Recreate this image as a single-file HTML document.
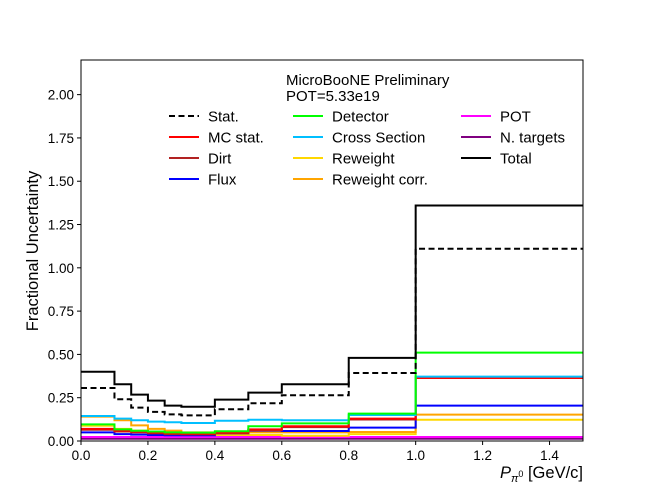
<!DOCTYPE html>
<html><head><meta charset="utf-8"><style>
body{margin:0;background:#fff}
svg{display:block;font-family:"Liberation Sans","DejaVu Sans",sans-serif}
</style></head><body>
<svg id="c" width="648" height="504" viewBox="0 0 648 504"></svg>
<script>
const edges=[0,0.1,0.15,0.2,0.25,0.3,0.4,0.5,0.6,0.8,1.0,1.5];
const seriesNames=["Stat.","MC stat.","Dirt","Flux","Detector","Cross Section","Reweight","Reweight corr.","POT","N. targets","Total"];
const seriesColors=["#000","#f00","#b22222","#00f","#0f0","#00bfff","#ffd700","#ffa500","#f0f","#800080","#000"];
const statV=[0.306,0.241,0.193,0.168,0.154,0.148,0.183,0.218,0.264,0.393,1.11];
const mcstatV=[0.07,0.06,0.055,0.05,0.045,0.042,0.05,0.067,0.085,0.129,0.364];
const dirtV=[0.065,0.055,0.05,0.045,0.04,0.038,0.045,0.062,0.08,0.124,0.368];
const fluxV=[0.05,0.04,0.037,0.035,0.033,0.033,0.045,0.06,0.058,0.077,0.204];
const detV=[0.096,0.067,0.059,0.055,0.05,0.048,0.056,0.085,0.102,0.158,0.51];
const xsecV=[0.144,0.129,0.12,0.112,0.108,0.104,0.117,0.123,0.12,0.15,0.372];
const rwV=[0.088,0.07,0.06,0.045,0.04,0.035,0.035,0.035,0.03,0.04,0.123];
const rwcV=[0.141,0.12,0.09,0.07,0.06,0.05,0.05,0.05,0.05,0.052,0.152];
const potV=[0.023,0.023,0.023,0.023,0.023,0.023,0.023,0.023,0.023,0.023,0.023];
const ntV=[0.013,0.013,0.013,0.013,0.013,0.013,0.013,0.013,0.013,0.013,0.013];
const totalV=[0.40,0.328,0.268,0.233,0.204,0.198,0.239,0.279,0.328,0.48,1.36];
const xTicks=[0,0.2,0.4,0.6,0.8,1.0,1.2,1.4];
const xTickLabels=["0.0","0.2","0.4","0.6","0.8","1.0","1.2","1.4"];
const yTicks=[0,0.25,0.5,0.75,1.0,1.25,1.5,1.75,2.0];
const yTickLabels=["0.00","0.25","0.50","0.75","1.00","1.25","1.50","1.75","2.00"];

const L=81,R=583,T=60,B=441;
const X=v=>L+(v-0)/1.5*(R-L);
const Y=v=>B-v/2.2*(B-T);
const NS="http://www.w3.org/2000/svg";
const svg=document.getElementById('c');
function mk(tag,attrs,parent){const e=document.createElementNS(NS,tag);for(const k in attrs)e.setAttribute(k,attrs[k]);(parent||svg).appendChild(e);return e;}

const drawOrder=[
 [ntV,9],[potV,8],[rwV,6],[rwcV,7],[fluxV,3],[dirtV,2],[mcstatV,1],[xsecV,5],[detV,4],[statV,0],[totalV,10]];
const g=mk('g',{});


drawOrder.forEach(([vals,i])=>{
  let d="";
  vals.forEach((v,k)=>{const x0=X(edges[k]),x1=X(edges[k+1]),y=Y(v);d+=(k===0?"M":"L")+x0+","+y+"L"+x1+","+y;});
  const p=mk('path',{d:d,fill:"none",stroke:seriesColors[i],"stroke-width":2,"stroke-dasharray":i===0?"6,3.5":"none"},g);
  
  
});

const frame=mk('rect',{x:L,y:T,width:R-L,height:B-T,fill:"none",stroke:"#000","stroke-width":1});



xTicks.forEach((v,k)=>{
  mk('line',{x1:X(v),x2:X(v),y1:B,y2:B+4,stroke:"#000"});
  const t=mk('text',{x:X(v),y:B+19,"text-anchor":"middle","font-size":13.5});
  t.textContent=xTickLabels[k];
  
  
});
yTicks.forEach((v,k)=>{
  mk('line',{x1:L-4,x2:L,y1:Y(v),y2:Y(v),stroke:"#000"});
  const t=mk('text',{x:L-7,y:Y(v)+5,"text-anchor":"end","font-size":13.5});
  t.textContent=yTickLabels[k];
  
  
});

const yl=mk('text',{x:38,y:251,"text-anchor":"middle","font-size":16.5,transform:"rotate(-90 38 251)"});
yl.textContent="Fractional Uncertainty";



const xl=mk('text',{x:583,y:478,"text-anchor":"end","font-size":16.5});
xl.innerHTML='<tspan font-style="italic">P</tspan><tspan font-style="italic" font-size="11" dy="4">π</tspan><tspan font-size="9" dy="-5">0</tspan><tspan dy="1"> [GeV/c]</tspan>';



const t1=mk('text',{x:286,y:85,"font-size":15});t1.textContent="MicroBooNE Preliminary";


const t2=mk('text',{x:286,y:101,"font-size":15});t2.textContent="POT=5.33e19";



const cols=[[169,[0,1,2,3]],[293,[4,5,6,7]],[461,[8,9,10]]];
cols.forEach(([lx,idx])=>{
  idx.forEach((i,r)=>{
    const y=116+r*21;
    const lg=mk('g',{});
    
    
    mk('line',{x1:lx,x2:lx+30,y1:y,y2:y,stroke:seriesColors[i],"stroke-width":2,"stroke-dasharray":i===0?"6,3.5":"none"},lg);
    const t=mk('text',{x:lx+39,y:y+5.5,"font-size":15},lg);
    t.textContent=seriesNames[i];
  });
});
</script>
</body></html>
